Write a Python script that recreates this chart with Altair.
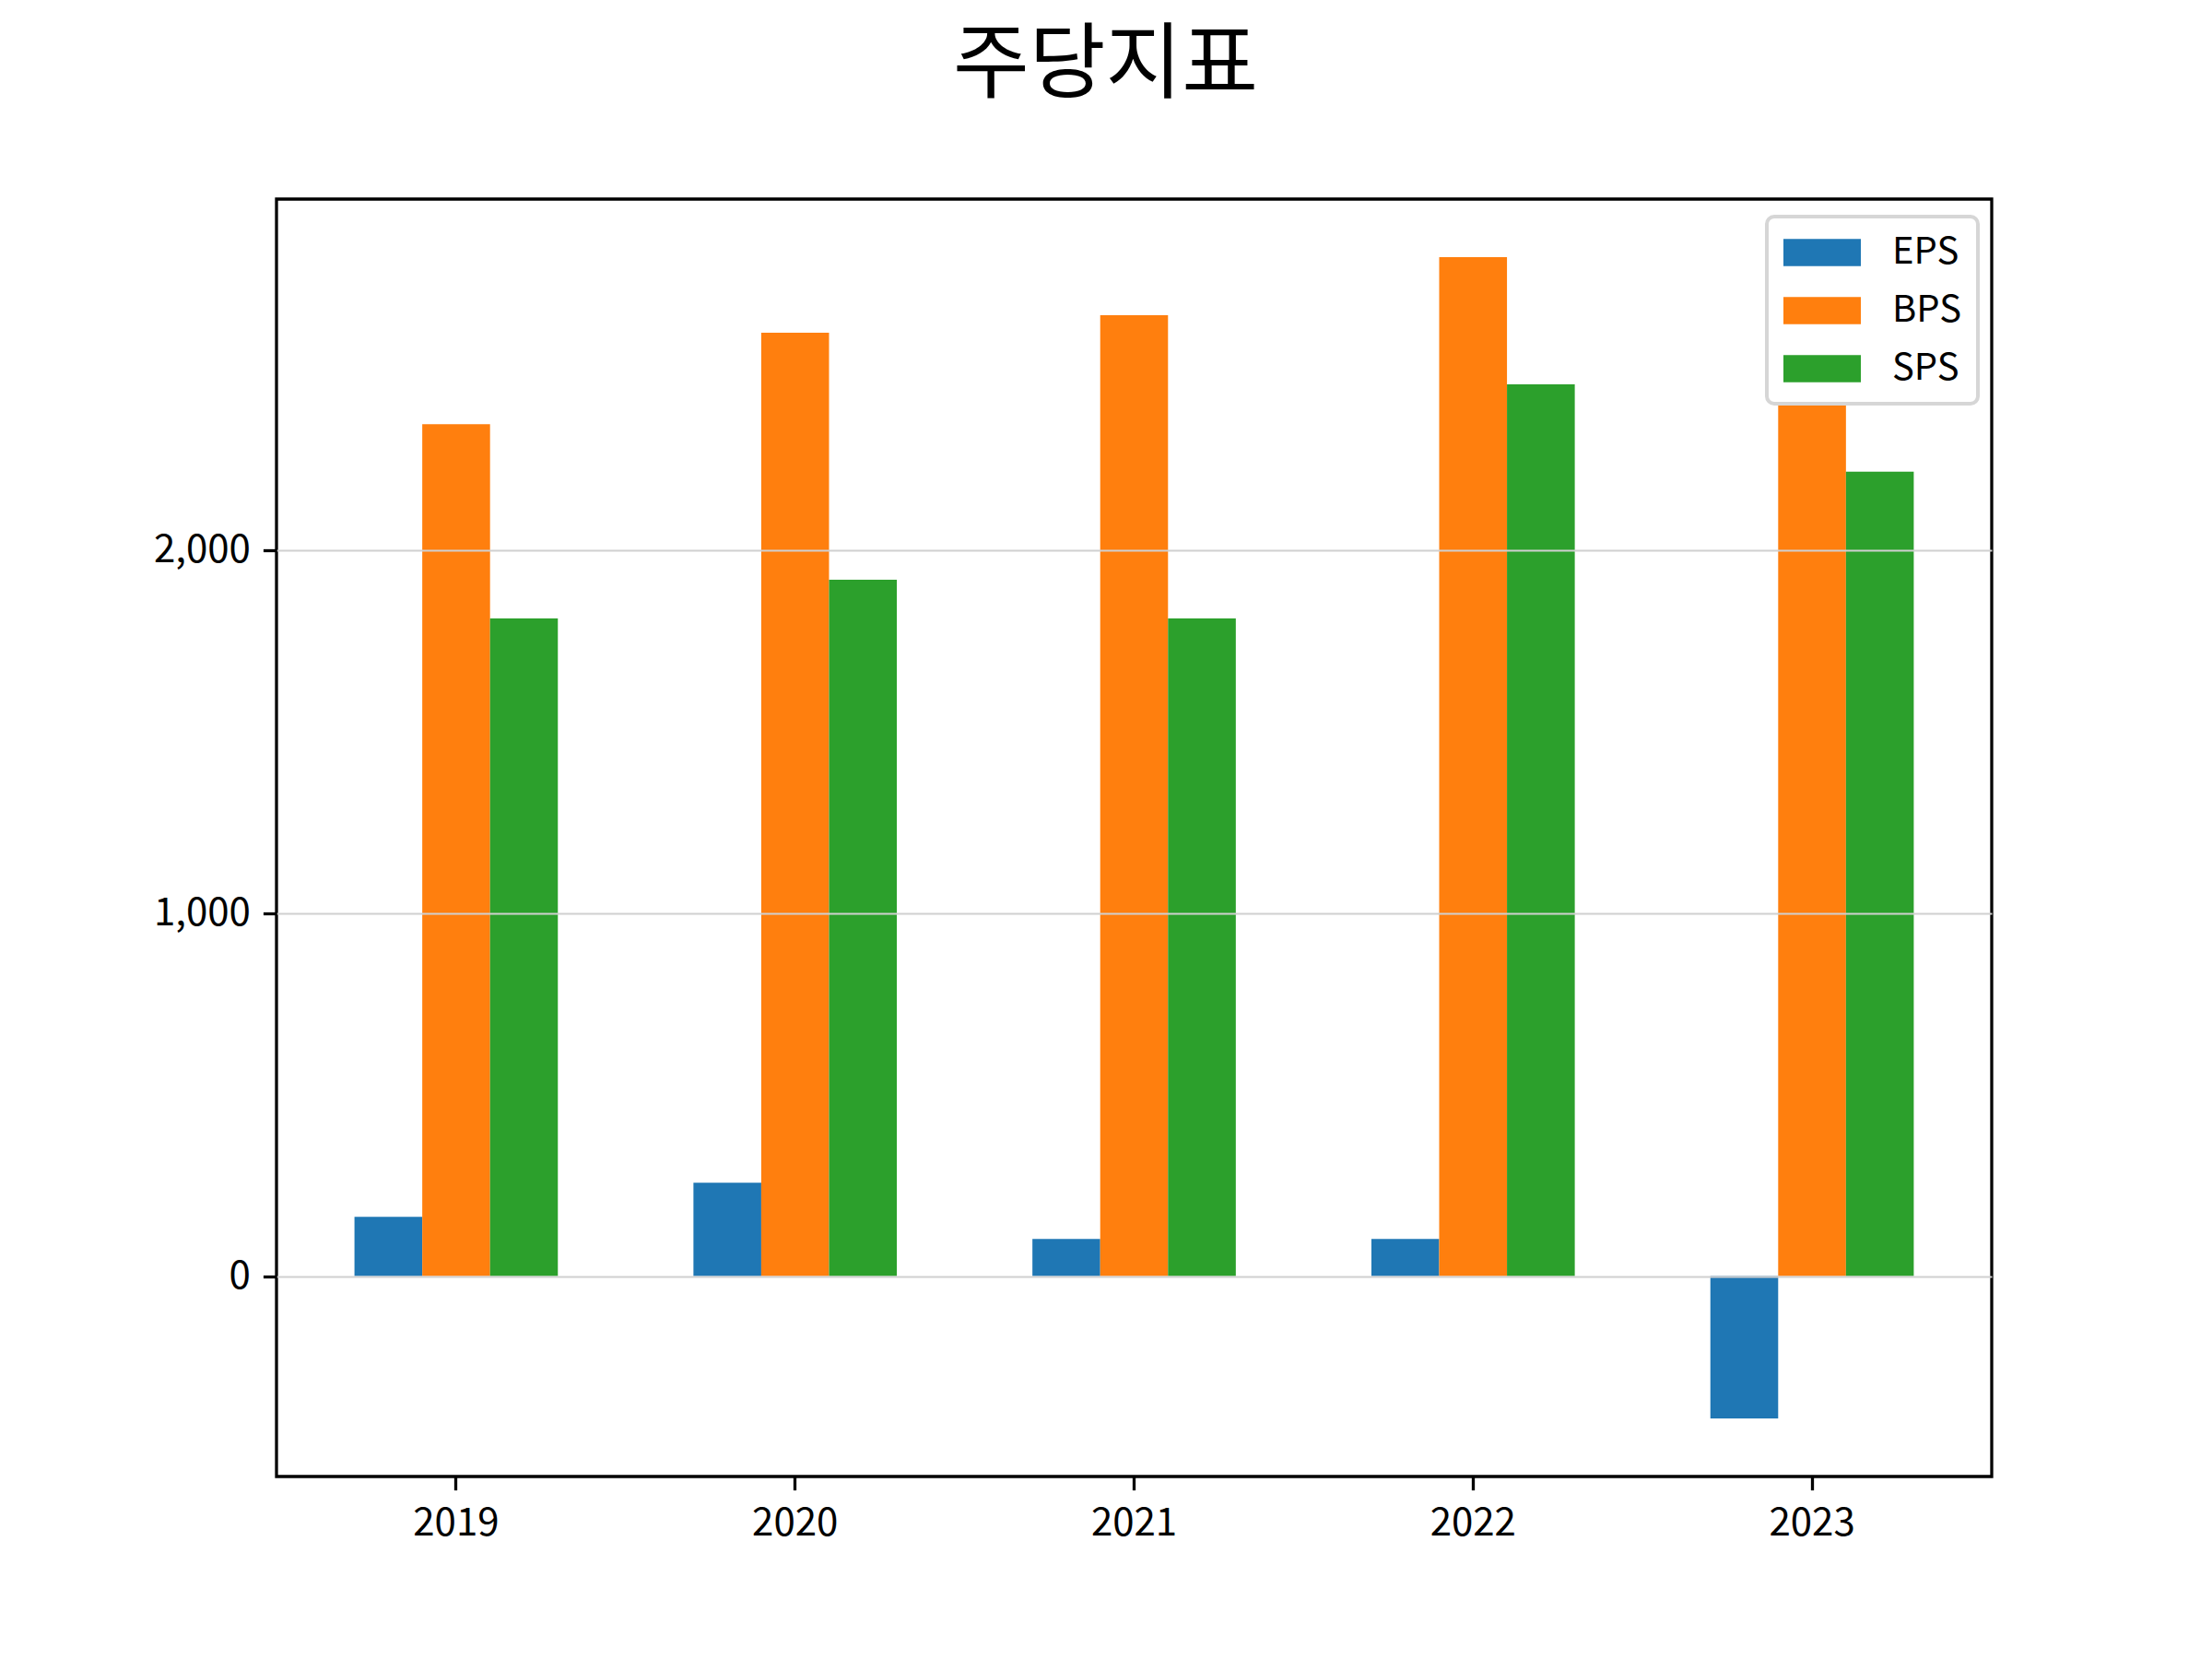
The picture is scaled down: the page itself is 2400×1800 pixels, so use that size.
import altair as alt
import pandas as pd

years = ["2019", "2020", "2021", "2022", "2023"]
series = ["EPS", "BPS", "SPS"]
eps = [163, 257, 102, 102, -392]
bps = [2346, 2598, 2646, 2806, 2405]
sps = [1811, 1918, 1811, 2456, 2215]
colors = ["#1f77b4", "#ff7f0e", "#2ca02c"]
y_ticks = [0, 1000, 2000]
y_domain = [-552, 2966]

rows = []
for name, vals in zip(series, [eps, bps, sps]):
    for yr, v in zip(years, vals):
        rows.append({"year": yr, "series": name, "value": v})
df = pd.DataFrame(rows)

FONT = "Noto Sans CJK KR"

chart = (
    alt.Chart(df)
    .mark_bar()
    .encode(
        x=alt.X(
            "year:N",
            sort=years,
            title=None,
            scale=alt.Scale(paddingInner=0.4, paddingOuter=0.23),
            axis=alt.Axis(
                labelAngle=0,
                domain=False,
                grid=False,
                ticks=True,
                tickSize=14.6,
                tickWidth=3.3,
                tickColor="black",
                labelFont=FONT,
                labelFontSize=42,
                labelColor="black",
                labelPadding=16,
            ),
        ),
        xOffset=alt.XOffset(
            "series:N",
            sort=series,
            scale=alt.Scale(domain=series, paddingInner=0, paddingOuter=0),
        ),
        y=alt.Y(
            "value:Q",
            title=None,
            scale=alt.Scale(domain=y_domain, nice=False, zero=False),
            axis=alt.Axis(
                values=y_ticks,
                format=",d",
                domain=False,
                grid=True,
                gridColor="#d0d0d0",
                gridWidth=2,
                tickSize=14.6,
                tickWidth=3.3,
                tickColor="black",
                labelFont=FONT,
                labelFontSize=42,
                labelColor="black",
                labelPadding=14,
                zindex=1,
            ),
        ),
        color=alt.Color(
            "series:N",
            sort=series,
            scale=alt.Scale(domain=series, range=colors),
            legend=alt.Legend(
                title=None,
                orient="none",
                legendX=1617,
                legendY=19,
                symbolType="M-1,-0.7L3,-0.7L3,0.7L-1,0.7Z",
                symbolSize=1764,
                symbolStrokeWidth=0,
                symbolOpacity=1,
                labelFont=FONT,
                labelFontSize=40,
                labelColor="black",
                labelOffset=76,
                fillColor="white",
                cornerRadius=8,
            ),
        ),
    )
    .properties(
        width=1861,
        height=1386,
        title=alt.TitleParams(
            "주당지표",
            font=FONT,
            fontSize=90,
            fontWeight="normal",
            color="black",
            anchor="middle",
            dx=-31,
            offset=98,
        ),
        background="white",
        autosize=alt.AutoSizeParams(type="none"),
        padding={"left": 292, "top": 208, "right": 231, "bottom": 190},
    )
    .configure_view(stroke="black", strokeWidth=3.3)
    .configure_legend(
        padding=18,
        rowPadding=22,
        strokeColor="#d6d6d6",
        strokeWidth=4,
    )
)

chart.save("out.html", embed_options={"renderer": "svg", "actions": False})
